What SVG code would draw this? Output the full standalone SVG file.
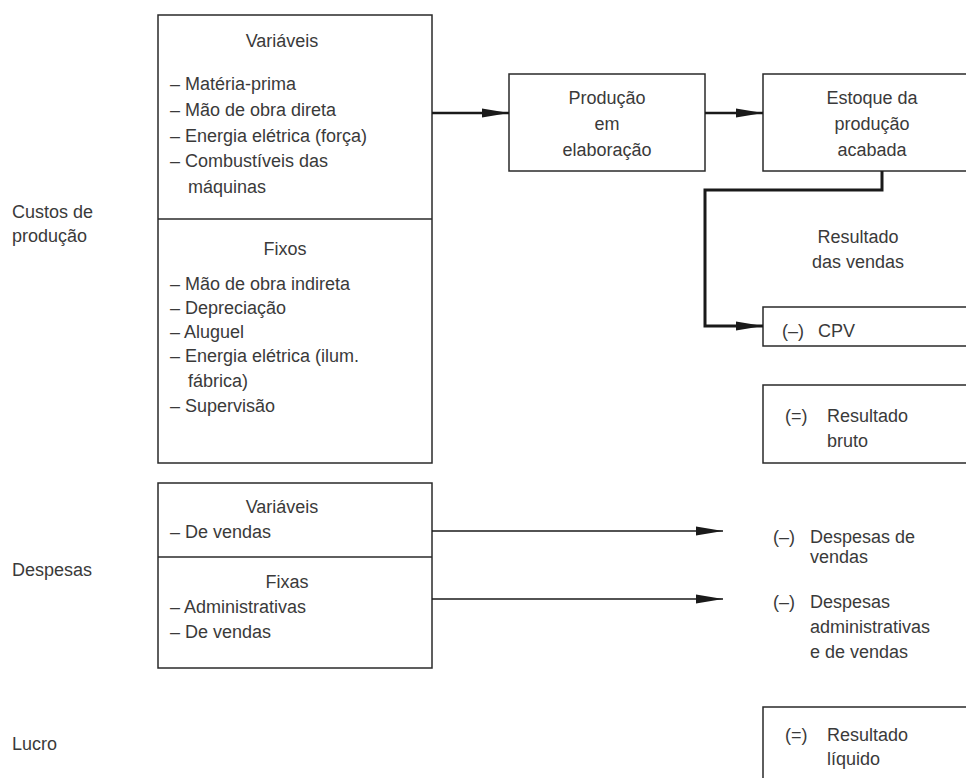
<svg xmlns="http://www.w3.org/2000/svg" width="966" height="778" viewBox="0 0 966 778">
<defs>
<style>
text{font-family:"Liberation Sans",Arial,sans-serif;font-size:18px;fill:#3a3a3a}
.c{text-anchor:middle}
.box{fill:#fff;stroke:#2a2a2a;stroke-width:1.5}
.div{stroke:#2a2a2a;stroke-width:1.5}
.thick{fill:none;stroke:#1a1a1a;stroke-width:2.4}
.bold{fill:none;stroke:#1a1a1a;stroke-width:3}
.thin{fill:none;stroke:#1a1a1a;stroke-width:1.4}
</style>
<marker id="ah" markerUnits="userSpaceOnUse" markerWidth="28" markerHeight="12" refX="27" refY="6" orient="auto">
<path d="M0,1.5 L27,6 L0,10.5 Z" fill="#1a1a1a"/>
</marker>
</defs>
<rect width="966" height="778" fill="#fff"/>

<g id="labels">
<text x="12" y="218">Custos de</text>
<text x="12" y="242">produção</text>
<text x="12" y="576">Despesas</text>
<text x="12" y="750">Lucro</text>
</g>

<g id="custos">
<rect class="box" x="158" y="15" width="274" height="448"/>
<line class="div" x1="158" y1="219" x2="432" y2="219"/>
<text class="c" x="282" y="47">Variáveis</text>
<text x="170" y="90">– Matéria-prima</text>
<text x="170" y="116">– Mão de obra direta</text>
<text x="170" y="142">– Energia elétrica (força)</text>
<text x="170" y="167">– Combustíveis das</text>
<text x="188" y="193">máquinas</text>
<text class="c" x="285" y="255">Fixos</text>
<text x="170" y="290">– Mão de obra indireta</text>
<text x="170" y="314">– Depreciação</text>
<text x="170" y="338">– Aluguel</text>
<text x="170" y="362">– Energia elétrica (ilum.</text>
<text x="188" y="387">fábrica)</text>
<text x="170" y="412">– Supervisão</text>
</g>

<g id="producao">
<rect class="box" x="509" y="74" width="196" height="97"/>
<text class="c" x="607" y="104">Produção</text>
<text class="c" x="607" y="130">em</text>
<text class="c" x="607" y="156">elaboração</text>
</g>

<g id="estoque">
<rect class="box" x="763" y="74" width="240" height="97"/>
<text class="c" x="872" y="104">Estoque da</text>
<text class="c" x="872" y="130">produção</text>
<text class="c" x="872" y="156">acabada</text>
</g>

<g id="resultado-vendas">
<text class="c" x="858" y="243">Resultado</text>
<text class="c" x="858" y="268">das vendas</text>
</g>

<g id="cpv">
<rect class="box" x="763" y="307" width="240" height="39"/>
<text x="782" y="337">(–)</text>
<text x="818" y="337">CPV</text>
</g>

<g id="resultado-bruto">
<rect class="box" x="763" y="385" width="240" height="78"/>
<text x="785" y="422">(=)</text>
<text x="827" y="422">Resultado</text>
<text x="827" y="447">bruto</text>
</g>

<g id="despesas">
<rect class="box" x="158" y="483" width="274" height="185"/>
<line class="div" x1="158" y1="557" x2="432" y2="557"/>
<text class="c" x="282" y="513">Variáveis</text>
<text x="170" y="538">– De vendas</text>
<text class="c" x="287" y="588">Fixas</text>
<text x="170" y="613">– Administrativas</text>
<text x="170" y="638">– De vendas</text>
</g>

<g id="despesas-vendas">
<text x="773" y="543">(–)</text>
<text x="810" y="543">Despesas de</text>
<text x="810" y="563">vendas</text>
</g>

<g id="despesas-adm">
<text x="773" y="608">(–)</text>
<text x="810" y="608">Despesas</text>
<text x="810" y="633">administrativas</text>
<text x="810" y="658">e de vendas</text>
</g>

<g id="resultado-liquido">
<rect class="box" x="763" y="707" width="240" height="100"/>
<text x="785" y="741">(=)</text>
<text x="827" y="741">Resultado</text>
<text x="827" y="765">líquido</text>
</g>

<g id="connectors">
<line class="thick" x1="432" y1="113" x2="509" y2="113" marker-end="url(#ah)"/>
<line class="thick" x1="705" y1="113" x2="763" y2="113" marker-end="url(#ah)"/>
<polyline class="bold" points="882,171 882,190 705,190 705,326 763,326" marker-end="url(#ah)"/>
<line class="thin" x1="432" y1="531" x2="723" y2="531" marker-end="url(#ah)"/>
<line class="thin" x1="432" y1="599" x2="723" y2="599" marker-end="url(#ah)"/>
</g>
</svg>
